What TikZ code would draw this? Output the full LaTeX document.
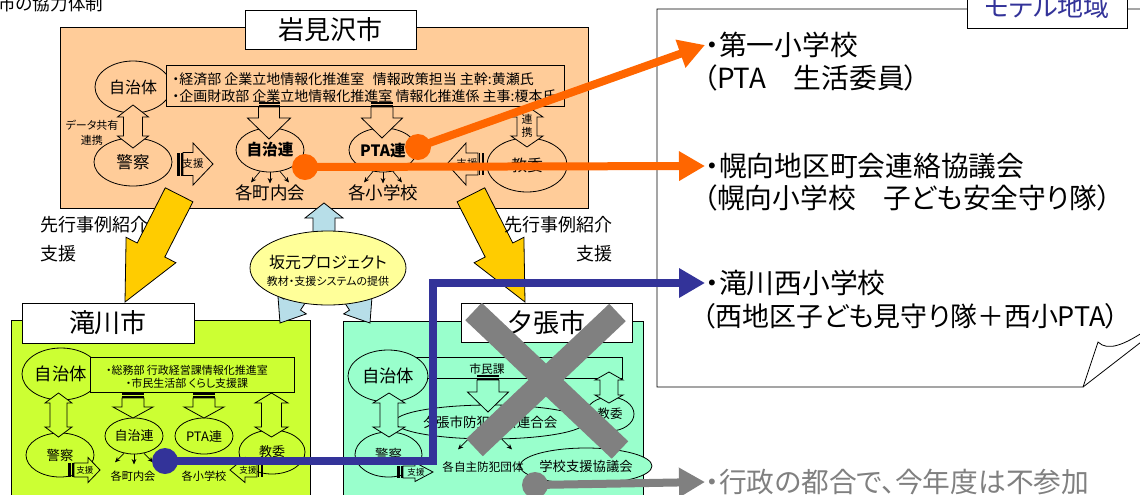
\documentclass[tikz,border=0pt]{standalone}
\usepackage{fontspec}
\setmainfont{Noto Sans CJK JP}[RawFeature=+palt]
\usetikzlibrary{shapes.geometric,arrows.meta}
\definecolor{bgO}{HTML}{FFCC99}
\definecolor{bgL}{HTML}{CCFF33}
\definecolor{bgM}{HTML}{99FFCC}
\definecolor{yarr}{HTML}{FFCC00}
\definecolor{barr}{HTML}{B7DEE8}
\definecolor{yell}{HTML}{FFFF99}
\definecolor{lorg}{HTML}{FF6600}
\definecolor{lblu}{HTML}{333399}
\definecolor{lgry}{HTML}{808080}
\newcommand\myfs[1]{\fontsize{#1pt}{#1pt}\selectfont}
\tikzset{
 ol/.style={draw=black, line width=0.6pt},
 ell/.style={ellipse, draw=black, line width=0.6pt, inner sep=0pt},
 txt/.style={inner sep=0pt},
 blk/.style={draw=black, line width=0.6pt, line join=miter},
 titlebox/.style={draw=black, line width=0.6pt, fill=white, inner sep=0pt, minimum width=128.25pt, minimum height=29.25pt, font={\myfs{19.5}}},
 thinarr/.style={-{Stealth[length=4pt,width=3.5pt]}, line width=0.5pt},
 conn/.style={line width=6pt, -{Triangle[length=19.5pt,width=21pt]}},
 xbar/.style={line width=18pt, draw=lgry},
 dotc/.style={circle, inner sep=0pt, minimum size=19.5pt},
 bigtxt/.style={txt, anchor=west, font={\myfs{20.8}}},
}
% #1 fill, #2 cx, #3 ybar, #4 yhead, #5 ytip, #6 shaft hw, #7 head hw
\newcommand\arrdown[7]{%
 \filldraw[blk, fill=#1] ({#2-#6},{#3+5}) -- ({#2+#6},{#3+5}) -- ({#2+#6},#4) -- ({#2+#7},#4) -- (#2,#5) -- ({#2-#7},#4) -- ({#2-#6},#4) -- cycle;
 \fill[black] ({#2-#6},#3) rectangle ({#2+#6},{#3+2.2});
 \fill[black] ({#2-#6},{#3+3.4}) rectangle ({#2+#6},{#3+5});
}
% #1 fill, #2 cx, #3 ytop, #4 ybot, #5 shaft hw, #6 head hw, #7 head len
\newcommand\arrvert[7]{%
 \filldraw[blk, fill=#1] (#2,#3) -- ({#2+#6},{#3+#7}) -- ({#2+#5},{#3+#7}) -- ({#2+#5},{#4-#7}) -- ({#2+#6},{#4-#7}) -- (#2,#4) -- ({#2-#6},{#4-#7}) -- ({#2-#5},{#4-#7}) -- ({#2-#5},{#3+#7}) -- ({#2-#6},{#3+#7}) -- cycle;
}
% #1 fill, #2 xbar, #3 xhead, #4 xtip, #5 cy, #6 shaft hh, #7 head hh, #8 sign
\newcommand\arrside[8]{%
 \filldraw[blk, fill=#1] ({#2+(#8)*6},{#5-#6}) -- (#3,{#5-#6}) -- (#3,{#5-#7}) -- (#4,#5) -- (#3,{#5+#7}) -- (#3,{#5+#6}) -- ({#2+(#8)*6},{#5+#6}) -- cycle;
 \fill[black] (#2,{#5-#6}) rectangle ({#2+(#8)*2.5},{#5+#6});
 \fill[black] ({#2+(#8)*3.8},{#5-#6}) rectangle ({#2+(#8)*5.5},{#5+#6});
}
\begin{document}
\begin{tikzpicture}[x=0.75pt,y=-0.75pt]
\useasboundingbox (0,0) rectangle (1140,494);
\fill[white] (0,0) rectangle (1140,494);

% heading (cut)
\node[txt, anchor=west, font={\myfs{13.2}}] (ttl) at (-2,4) {市の協力体制};

% ---------- model area note ----------
\draw[ol] (1150,9) -- (657,9) -- (657,387) -- (1083,387) -- (1098,342) .. controls (1108,352) and (1125,344) .. (1145,331);
\draw[ol] (1083,387) -- (1145,339);
\draw[ol, fill=white] (967,-10) rectangle (1127,28);
\node[txt, font={\myfs{19.5}}, text=lblu] (model) at (1047,6) {モデル地域};
\node[bigtxt] (n1) at (705,45) {・第一小学校};
\node[bigtxt] (n2) at (703,78) {（PTA　生活委員）};
\node[bigtxt] (n3) at (705,166) {・幌向地区町会連絡協議会};
\node[bigtxt] (n4) at (703,198) {（幌向小学校　子ども安全守り隊）};
\node[bigtxt] (n5) at (705,283) {・滝川西小学校};
\node[bigtxt, font={\myfs{20.2}}] (n6) at (702,316) {（西地区子ども見守り隊＋西小PTA）};
\node[bigtxt, text=lgry] (n7) at (705,482) {・行政の都合で、今年度は不参加};

% ---------- Iwamizawa ----------
\filldraw[ol, fill=bgO] (60,27) rectangle (588,208);
\node[titlebox] (iwa) at (330.5,29.5) {岩見沢市};
\node[ell, fill=bgO, minimum width=57pt, minimum height=39pt, font={\myfs{12}}] (jt1) at (133,87) {自治体};
\filldraw[ol, fill=bgO] (166,65) rectangle (564,106);
\node[txt, anchor=west, font={\myfs{10.5}}] (inf1) at (172,79) {・経済部 企業立地情報化推進室\hspace{0.6em}情報政策担当 主幹:黄瀬氏};
\node[txt, anchor=west, font={\myfs{10.5}}] (inf2) at (172,96) {・企画財政部 企業立地情報化推進室 情報化推進係 主事:榎本氏};
\node[ell, fill=bgO, minimum width=58.5pt, minimum height=36pt, font={\myfs{12.4}}] (kei1) at (133,162) {警察};
\node[ell, fill=bgO, minimum width=51pt, minimum height=33pt, font={\bfseries\myfs{11.7}}] (jr1) at (270,150) {自治連};
\node[ell, fill=bgO, minimum width=51pt, minimum height=33pt, font={\bfseries\myfs{11.7}}] (pta1) at (383,150) {PTA連};
\node[ell, fill=bgO, minimum width=60pt, minimum height=40.5pt, font={\myfs{12}}] (kyo1) at (527,165) {教委};
\arrvert{bgO}{133}{105}{148}{9.5}{15.5}{12}
\node[txt, align=center, font={\fontsize{8.25pt}{11.25pt}\selectfont}] (dk) at (92,133) {データ共有\\連携};
\arrside{bgO}{177}{193}{213}{164}{11.5}{21}{1}
\node[txt, font={\myfs{7.9}}] (sh1) at (193,164) {支援};
\arrdown{bgO}{269}{102}{118}{139}{10.5}{21.5}
\arrdown{bgO}{382}{102}{118}{138}{11}{20.5}
\node[txt, font={\myfs{13.1}}] (kc1) at (270,193) {各町内会};
\node[txt, font={\myfs{13.1}}] (ks1) at (383,193) {各小学校};
\draw[thinarr] (jr1.245) -- ++(-9,11);
\draw[thinarr] (jr1.south) -- ++(0,11);
\draw[thinarr] (jr1.295) -- ++(9,11);
\draw[thinarr] (pta1.245) -- ++(-9,11);
\draw[thinarr] (pta1.south) -- ++(0,11);
\draw[thinarr] (pta1.295) -- ++(9,11);
\arrvert{bgO}{527}{106}{147}{10}{16}{11}
\node[txt, align=center, font={\fontsize{8.25pt}{9.5pt}\selectfont}] (rk1) at (527,126) {連\\携};
\arrside{bgO}{484}{466}{447}{164}{11}{21}{-1}
\node[txt, font={\myfs{7.9}}] (sh2) at (467,164) {支援};

% ---------- Takikawa ----------
\filldraw[ol, fill=bgL] (11,320) rectangle (310,497);
\node[titlebox, minimum width=129pt, minimum height=30pt] (tak) at (108,323) {滝川市};
\node[ell, fill=bgL, minimum width=58.5pt, minimum height=39pt, font={\myfs{13}}] (jt2) at (61,374) {自治体};
\filldraw[ol, fill=bgL] (90,357) rectangle (294,392);
\node[txt, font={\myfs{8.25}}] (tinf1) at (187,370) {・総務部 行政経営課情報化推進室};
\node[txt, font={\myfs{8.25}}] (tinf2) at (187,383) {・市民生活部 くらし支援課};
\node[ell, fill=bgL, minimum width=51pt, minimum height=33pt, font={\myfs{10}}] (kei2) at (60,455) {警察};
\node[ell, fill=bgL, minimum width=43.5pt, minimum height=27pt, font={\myfs{9.75}}] (jr2) at (134,436) {自治連};
\node[ell, fill=bgL, minimum width=43.5pt, minimum height=27pt, font={\myfs{9.75}}] (pta2) at (204,436) {PTA連};
\node[ell, fill=bgL, minimum width=49.5pt, minimum height=33pt, font={\myfs{9.75}}] (kyo2) at (272,452) {教委};
\arrvert{bgL}{58.5}{393}{437}{8.5}{13.5}{10}
\arrvert{bgL}{271.5}{393}{437}{10}{16.5}{10}
\arrdown{bgL}{133}{393}{407}{418}{11}{20}
\arrdown{bgL}{204}{393}{407}{418}{11}{20}
\arrside{bgL}{68}{88}{100}{470}{7}{12.5}{1}
\node[txt, font={\myfs{6.4}}] (sh3) at (85,470) {支援};
\arrside{bgL}{263}{245}{230}{470}{7}{12.5}{-1}
\node[txt, font={\myfs{6.4}}] (sh4) at (248,470) {支援};
\draw[thinarr] (jr2.240) -- ++(-9,9);
\draw[thinarr] (jr2.south) -- ++(0,10);
\draw[thinarr] (jr2.300) -- ++(9,9);
\node[txt, font={\myfs{8.4}}] (kc2) at (133,476) {各町内会};
\node[txt, font={\myfs{8.4}}] (ks2) at (204,476) {各小学校};

% ---------- Yubari ----------
\filldraw[ol, fill=bgM] (343,321) rectangle (643,497);
\node[titlebox] (yub) at (546.5,322.5) {夕張市};
\filldraw[ol, fill=bgM] (400,357) rectangle (622,378);
\node[ell, fill=bgM, minimum width=60pt, minimum height=39pt, font={\myfs{13}}] (jt3) at (388,376) {自治体};
\node[txt, font={\myfs{8.8}}] (smk) at (487,369) {市民課};
\node[ell, fill=bgM, minimum width=120pt, minimum height=25.5pt, font={\myfs{10.1}}] (bh) at (490,422) {夕張市防犯協会連合会};
\node[ell, fill=bgM, minimum width=36pt, minimum height=25.5pt, font={\myfs{9.4}}] (kyo3) at (610,414) {教委};
\node[ell, fill=bgM, minimum width=50.25pt, minimum height=33.75pt, font={\myfs{10}}] (kei3) at (388.5,454.5) {警察};
\node[ell, fill=bgM, minimum width=79.5pt, minimum height=27pt, font={\myfs{10}}] (gk) at (586,466) {学校支援協議会};
\arrdown{bgM}{488}{375}{392}{412}{11}{20.5}
\arrvert{bgM}{389}{393}{437}{9}{16}{10}
\arrvert{bgM}{609}{372}{403}{9}{14}{8}
\arrside{bgM}{397}{415}{433}{472}{6}{9.5}{1}
\node[txt, font={\myfs{6.4}}] (sh5) at (416,472) {支援};
\draw[thinarr] ([xshift=-16.5pt]bh.south) -- ++(-10,10);
\draw[thinarr] ([xshift=9pt]bh.south) -- ++(10,10);
\node[txt, font={\myfs{8.7}}] (jsb) at (483,467) {各自主防犯団体};

% ---------- yellow arrows ----------
\filldraw[ol, fill=yarr] (165.3,187.8) -- (192.9,201.8) -- (164.8,257.0) -- (175.9,262.7) -- (125,302) -- (126.1,237.3) -- (137.2,243.0) -- cycle;
\filldraw[ol, fill=yarr] (484.7,187.8) -- (457.1,201.8) -- (485.2,257.0) -- (474.1,262.7) -- (525,302) -- (523.9,237.3) -- (512.8,243.0) -- cycle;
\node[txt, anchor=west, font={\myfs{13.5}}] (sj1) at (40,225) {先行事例紹介};
\node[txt, anchor=west, font={\myfs{13.5}}] (sj2) at (40,254) {支援};
\node[txt, anchor=east, font={\myfs{13.5}}] (sj3) at (613,225) {先行事例紹介};
\node[txt, anchor=east, font={\myfs{13.5}}] (sj4) at (613,254) {支援};

% ---------- Sakamoto project ----------
\filldraw[ol, fill=barr] (313,235) -- (313,218) -- (305,218) -- (324,203) -- (343,218) -- (335,218) -- (335,235) -- cycle;
\filldraw[ol, fill=barr] (313.1,290.9) -- (300.5,310.1) -- (306.3,313.9) -- (280,323) -- (277.9,295.3) -- (283.8,299.1) -- (296.5,279.9) -- cycle;
\filldraw[ol, fill=barr] (336.9,290.9) -- (349.5,310.1) -- (343.7,313.9) -- (370,323) -- (372.1,295.3) -- (366.3,299.1) -- (353.6,279.9) -- cycle;
\node[ell, fill=yell, minimum width=117pt, minimum height=55.5pt] (saka) at (328,268) {};
\node[txt, font={\myfs{12}}] (sk1) at (328,262) {坂元プロジェクト};
\node[txt, font={\myfs{8.25}}] (sk2) at (328,281) {教材・支援システムの提供};

% ---------- cross ----------
\draw[xbar] (473.5,311.5) -- (620,450);
\draw[xbar] (617.5,312.5) -- (474.5,447.5);

% ---------- connectors ----------
\coordinate (o1) at (305,167);
\coordinate (o2) at (418,147);
\coordinate (b1) at (165,461);
\coordinate (bk) at (433,461);
\coordinate (g1) at (535,485);
\draw[conn, lorg] (o2) -- (n1.west);
\draw[conn, lorg] (o1) -- (n3.west);
\draw[conn, lblu] (b1) -- (bk) |- (n5.west);
\draw[conn, lgry] (g1) -- (n7.west);
\node[dotc, fill=lorg] (d1) at (o1) {};
\node[dotc, fill=lorg] (d2) at (o2) {};
\node[dotc, fill=lblu] (d3) at (b1) {};
\node[dotc, fill=lgry] (d4) at (g1) {};
\end{tikzpicture}
\end{document}
